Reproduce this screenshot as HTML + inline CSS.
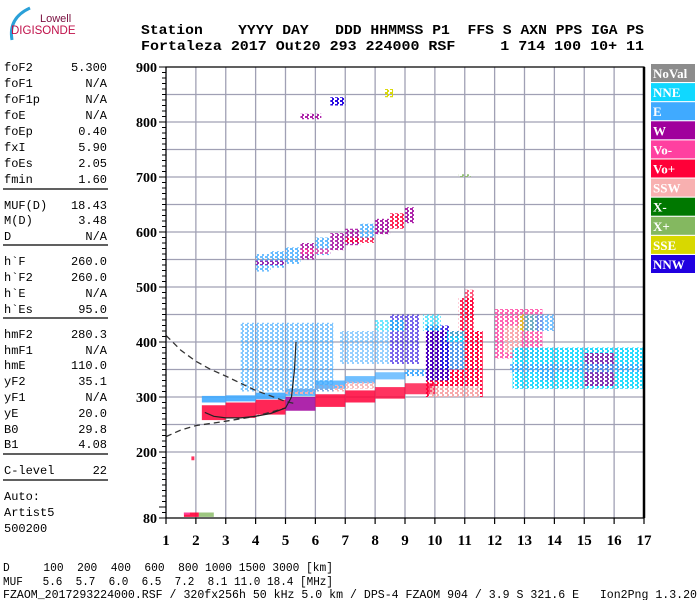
<!DOCTYPE html>
<html><head><meta charset="utf-8"><style>
html,body{margin:0;padding:0;background:#fff;}
svg{display:block;}
.mono{font-family:"Liberation Mono",monospace;}
.ser{font-family:"Liberation Serif",serif;font-weight:bold;}
</style></head><body>
<svg id="chart" width="700" height="600" viewBox="0 0 700 600" xmlns="http://www.w3.org/2000/svg">
<defs id="defs"></defs>
<g>
<path d="M12,40 Q8,18 30,8" stroke="#2aa0d8" stroke-width="3" fill="none"/>
<text x="40" y="22" font-family="Liberation Sans,sans-serif" font-size="11" fill="#7a1040">Lowell</text>
<text x="11" y="34" font-family="Liberation Sans,sans-serif" font-size="11.5" fill="#c0104a">DIGISONDE</text>
</g>
<g id="header" class="mono" font-weight="bold" font-size="14">
<text x="141" y="34" textLength="503" lengthAdjust="spacingAndGlyphs" xml:space="preserve">Station    YYYY DAY   DDD HHMMSS P1  FFS S AXN PPS IGA PS</text>
<text x="141" y="50" textLength="503" lengthAdjust="spacingAndGlyphs" xml:space="preserve">Fortaleza 2017 Out20 293 224000 RSF     1 714 100 10+ 11</text>
</g>
<g id="panel" class="mono" font-size="12"></g>
<g id="plot"></g>
<g class="mono" font-size="12">
<text x="3" y="571" textLength="330" lengthAdjust="spacingAndGlyphs" xml:space="preserve">D     100  200  400  600  800 1000 1500 3000 [km]</text>
<text x="3" y="585" textLength="330" lengthAdjust="spacingAndGlyphs" xml:space="preserve">MUF   5.6  5.7  6.0  6.5  7.2  8.1 11.0 18.4 [MHz]</text>
<text x="3" y="598" textLength="694" lengthAdjust="spacingAndGlyphs" xml:space="preserve">FZAOM_2017293224000.RSF / 320fx256h 50 kHz 5.0 km / DPS-4 FZAOM 904 / 3.9 S 321.6 E   Ion2Png 1.3.20</text>
</g>
</svg>
<script>
const NS="http://www.w3.org/2000/svg";
const panelLabels=["foF2","foF1","foF1p","foE","foEp","fxI","foEs","fmin","MUF(D)","M(D)","D","h`F","h`F2","h`E","h`Es","hmF2","hmF1","hmE","yF2","yF1","yE","B0","B1","C-level","Auto:","Artist5","500200"];
const panelValues=["5.300","N/A","N/A","N/A","0.40","5.90","2.05","1.60","18.43","3.48","N/A","260.0","260.0","N/A","95.0","280.3","N/A","110.0","35.1","N/A","20.0","29.8","4.08","22","","",""];
const panelY=[71,87,103,119,135,151,167,183,209,224,240,265,281,297,313,338,354,369,385,401,417,433,448,474,500,516,532];
const panelLines=[189,245,318,454,480];
const xTicks=[1,2,3,4,5,6,7,8,9,10,11,12,13,14,15,16,17];
const yTickLabels=[80,200,300,400,500,600,700,800,900];
const yGrid=[200,250,300,350,400,450,500,550,600,650,700,750,800,850];
const legendNames=["NoVal","NNE","E","W","Vo-","Vo+","SSW","X-","X+","SSE","NNW"];
const legendColors=["#8c8c8c","#10d8ff","#40aaff","#a0009c","#ff40a0","#ff0038","#f8b0b0","#007800","#84b860","#d8d800","#2000e0"];
// echo blocks: freq start, freq end, height start, height end, color index, density
const echoF0=[2.2,3,4,5,6,7,8,9, 2.2,3,4,5,6,7,8,9, 5,6,7, 3.5,6.8,8.5, 4,4.5,5,5.5,6,6.5,7,7.5,8,8.5,9, 4,5.5,7, 9.7,10.2,9.8,9.7,10.8,11,10.4, 12,12.3,12.8,12.6,13.5,15,12.5, 13,5.5,6.5,8.3, 1.6,1.6,2.1, 1.85,9.6,8,10.8];
const echoF1=[3,4,5,6,7,8,9,10, 3,4,5,6,7,8,9,9.8, 6,7,8, 6.6,8.5,9.5, 4.5,5,5.5,6,6.5,7,7.5,8,8.5,9,9.3, 5,6.5,8, 11.6,11,11.5,10.5,11.3,11.3,11, 13.6,12.9,13.4,17,14,16,17, 14,6.2,7,8.6, 2.1,1.8,2.6, 1.95,10.2,9,11.2];
const echoH0=[258,262,268,275,282,290,297,305, 290,292,296,302,315,325,332,338, 305,310,315, 310,360,360, 528,535,542,550,558,567,576,586,596,606,616, 540,560,580, 300,350,300,330,420,440,400, 370,380,420,315,330,320,345, 420,805,830,845, 82,86,82, 185,420,420,700];
const echoH1=[285,290,295,300,305,312,318,325, 302,303,308,315,330,338,345,350, 315,322,328, 435,420,450, 560,565,572,580,590,598,606,615,624,634,645, 548,570,590, 420,410,320,430,480,495,420, 460,430,450,390,360,380,360, 450,815,845,860, 90,90,90, 192,450,440,705];
const echoC=[5,5,5,3,5,5,5,5, 2,2,2,2,2,2,2,2, 6,6,6, 2,2,10, 2,2,2,3,2,3,3,2,3,5,3, 3,4,5, 5,2,6,10,5,5,1, 4,6,9,1,2,3,2, 2,3,10,9, 5,4,8, 5,1,1,8];
const echoD=[.85,.85,.85,.85,.85,.85,.8,.75, .9,.9,.9,.85,.8,.75,.7,.6, .6,.6,.5, .3,.2,.25, .4,.45,.45,.45,.45,.45,.45,.45,.5,.5,.5, .4,.4,.4, .6,.55,.6,.45,.5,.3,.4, .45,.55,.35,.55,.35,.4,.4, .35,.5,.6,.6, .9,.9,.8, .8,.3,.25,.5];
const upperDashF=[1,1.5,2,2.5,3,3.5,4,4.5,5,5.3];
const upperDashH=[412,385,365,350,338,325,312,302,292,288];
const lowerDashF=[1,1.5,2,3,4,5];
const lowerDashH=[228,240,248,256,265,280];
const solidF=[2.3,2.6,3,3.5,4,4.5,5,5.2,5.3,5.35];
const solidH=[272,265,262,262,265,270,280,300,350,400];

const PL=166,PR=644,PT=67,PB=518;
function xs(f){return PL+(f-1)*(PR-PL)/16;}
function ys(h){return PB-(h-80)*(PB-PT)/820;}
function mk(t,a,p){const e=document.createElementNS(NS,t);for(const k in a)e.setAttribute(k,a[k]);(p||plot).appendChild(e);return e;}
const plot=document.getElementById('plot');
const panel=document.getElementById('panel');
const defs=document.getElementById('defs');
// speckle patterns per colour
legendColors.forEach((c,i)=>{
 const p=mk('pattern',{id:'sp'+i,width:5,height:4,patternUnits:'userSpaceOnUse'},defs);
 mk('rect',{x:0,y:0,width:3,height:2,fill:c},p);
 mk('rect',{x:2,y:2,width:2,height:2,fill:c},p);
});

panelLabels.forEach((l,i)=>{
 const t=mk('text',{x:4,y:panelY[i]},panel);t.textContent=l;
 
 
 if(panelValues[i]){const v=mk('text',{x:107,y:panelY[i],'text-anchor':'end'},panel);v.textContent=panelValues[i];
 
 }
});
panelLines.forEach(y=>{const l=mk('line',{x1:3,x2:108,y1:y,y2:y,stroke:'#000','stroke-width':1.3},panel);
 
 });

yGrid.forEach(h=>{const l=mk('line',{x1:PL,x2:PR,y1:ys(h),y2:ys(h),stroke:'#a0a0b4','stroke-width':1.3});
 
 });
xTicks.forEach(f=>{const l=mk('line',{x1:xs(f),x2:xs(f),y1:PT,y2:PB,stroke:'#a0a0b4','stroke-width':1.3});
 
 });

echoF0.forEach((f,i)=>{
 const d=echoD[i];
 const fill=d<0.7?'url(#sp'+echoC[i]+')':legendColors[echoC[i]];
 const r=mk('rect',{x:xs(f),y:ys(echoH1[i]),width:xs(echoF1[i])-xs(f),height:ys(echoH0[i])-ys(echoH1[i]),fill:fill,'fill-opacity':d<0.7?Math.min(1,d+0.35):d});
 
 
});

function pathOf(F,H){return F.map((f,i)=>(i?'L':'M')+xs(f).toFixed(1)+','+ys(H[i]).toFixed(1)).join(' ');}
let c=mk('path',{d:pathOf(upperDashF,upperDashH),stroke:'#333','stroke-width':1.3,fill:'none','stroke-dasharray':'6,4'});


c=mk('path',{d:pathOf(lowerDashF,lowerDashH),stroke:'#333','stroke-width':1.3,fill:'none','stroke-dasharray':'6,4'});


c=mk('path',{d:pathOf(solidF,solidH),stroke:'#222','stroke-width':1.2,fill:'none'});



const fr=mk('path',{d:`M${PL},${PT} H${PR} V${PB} H${PL} Z`,stroke:'#000','stroke-width':1.2,fill:'none'});


const rb=mk('line',{x1:PR,x2:PR,y1:PT,y2:PB,stroke:'#000','stroke-width':2.5});


for(let h=80;h<=900;h+=10){const major=h%100===0||h===80;
 const t=mk('line',{x1:PL-(major?7:4),x2:PL,y1:ys(h),y2:ys(h),stroke:'#000','stroke-width':1});
 
 }
yTickLabels.forEach(h=>{const t=mk('text',{x:157,y:ys(h)+5,'text-anchor':'end','font-size':14,class:'ser'});t.textContent=h;
 
 });
xTicks.forEach(f=>{
 const t=mk('line',{x1:xs(f),x2:xs(f),y1:PB,y2:PB+6,stroke:'#000','stroke-width':1.2});
 
 
 const l=mk('text',{x:xs(f),y:545,'text-anchor':'middle','font-size':15,class:'ser'});l.textContent=f;
 
 });

legendNames.forEach((n,i)=>{
 const y=64+i*19.1;
 const r=mk('rect',{x:651,y:y,width:44,height:18,fill:legendColors[i]});
 
 
 const t=mk('text',{x:653,y:y+14,fill:'#fff','font-size':13,class:'ser'});t.textContent=n;
 
 
});
</script>
</body></html>
